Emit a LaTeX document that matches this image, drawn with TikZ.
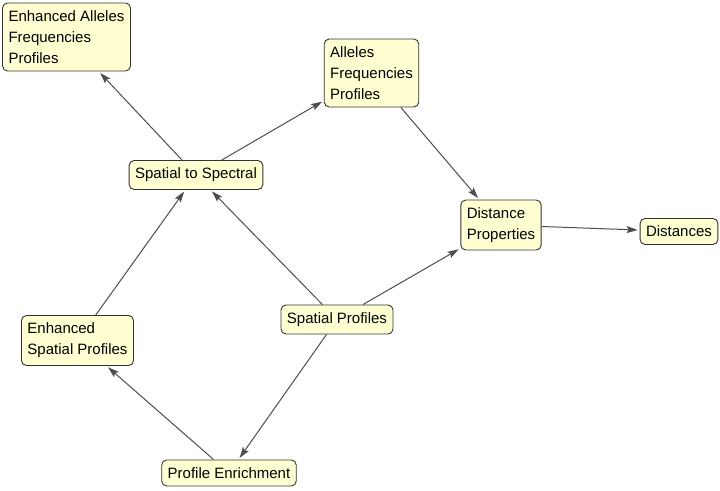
\documentclass[tikz,border=0pt]{standalone}
\usepackage{fontspec}
\setmainfont{Liberation Sans}
\usetikzlibrary{arrows.meta,positioning,shadows}
\definecolor{boxfill}{HTML}{FFFFD2}
\definecolor{boxline}{HTML}{333333}
\definecolor{edgegray}{HTML}{4D4D4D}
\tikzset{
  >={Stealth[length=11pt,width=7pt,inset=2pt]},
  % rutor
  pbox/.style={draw=boxline,fill=boxfill,rounded corners=5pt,line width=0.9pt,
               align=left,inner xsep=6pt,inner ysep=7.5pt,
               font=\fontsize{15}{21}\selectfont},
  % pilar
  pe/.style={->,draw=edgegray,line width=1pt,shorten >=2pt},
}
\begin{document}
\begin{tikzpicture}[x=1pt,y=-1pt]
  \useasboundingbox (0,0) rectangle (720,490);
  \node[pbox] (eafp) at (66.5,37) {Enhanced Alleles\\Frequencies\\Profiles};
  \node[pbox] (afp) at (371.5,73) {Alleles\\Frequencies\\Profiles};
  \node[pbox] (s2s) at (196,175) {Spatial to Spectral};
  \node[pbox] (dprop) at (501,225) {Distance\\Properties};
  \node[pbox] (dist) at (679,231.5) {Distances};
  \node[pbox] (sprof) at (337,319.5) {Spatial Profiles};
  \node[pbox] (esprof) at (77.5,340.5) {Enhanced\\Spatial Profiles};
  \node[pbox] (penr) at (229,473) {Profile Enrichment};
  \draw[pe] (s2s) -- (eafp);
  \draw[pe] (s2s) -- (afp);
  \draw[pe] (afp) -- (dprop);
  \draw[pe] (dprop) -- (dist);
  \draw[pe] (sprof) -- (dprop);
  \draw[pe] (sprof) -- (s2s);
  \draw[pe] (sprof) -- (penr);
  \draw[pe] (penr) -- (esprof);
  \draw[pe] (esprof) -- (s2s);
\end{tikzpicture}
\end{document}
